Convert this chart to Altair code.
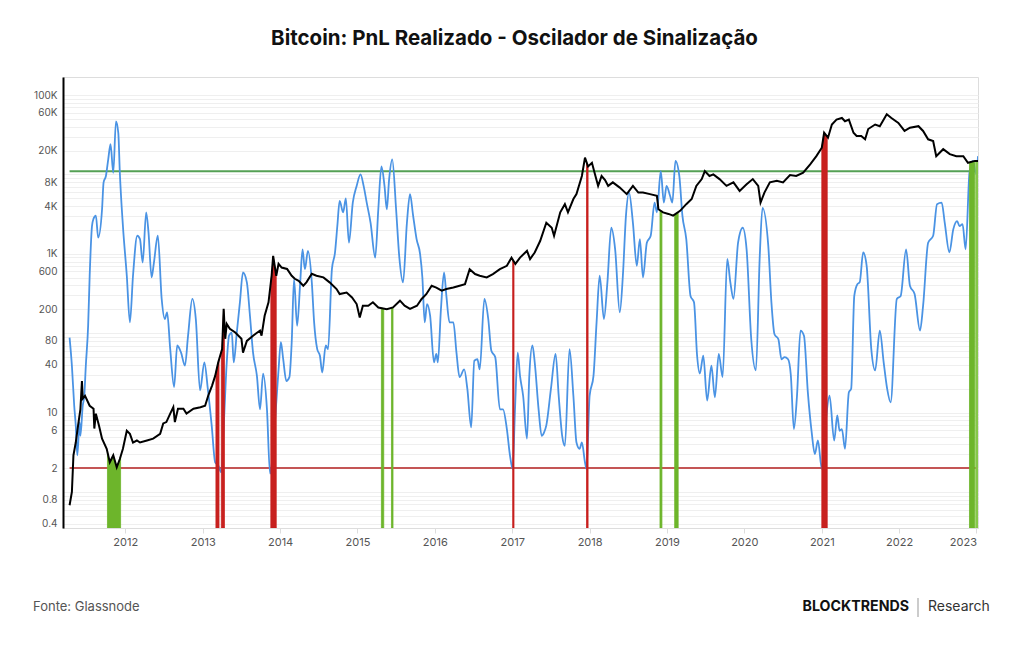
import json
import altair as alt
import numpy as np
import pandas as pd

# ---------------- data ----------------
# Bitcoin price (USD), decimal year
price_years = [
    2011.28, 2011.31, 2011.33, 2011.36, 2011.39, 2011.42, 2011.44, 2011.45, 2011.48, 2011.54,
    2011.59, 2011.60, 2011.62, 2011.66, 2011.70, 2011.76, 2011.80, 2011.845, 2011.89, 2011.93,
    2011.97, 2012.02, 2012.06, 2012.10, 2012.15, 2012.19, 2012.28, 2012.36, 2012.45, 2012.49,
    2012.53, 2012.58, 2012.62, 2012.64, 2012.68, 2012.75, 2012.79, 2012.88, 2012.97, 2013.03,
    2013.07, 2013.12, 2013.16, 2013.20, 2013.25, 2013.27, 2013.29, 2013.31, 2013.35, 2013.42,
    2013.50, 2013.52, 2013.57, 2013.65, 2013.74, 2013.76, 2013.80, 2013.85, 2013.89, 2013.91,
    2013.95, 2013.98, 2014.02, 2014.09, 2014.15, 2014.19, 2014.24, 2014.30, 2014.34, 2014.41,
    2014.47, 2014.56, 2014.64, 2014.73, 2014.77, 2014.86, 2014.93, 2014.99, 2015.03, 2015.07,
    2015.14, 2015.20, 2015.27, 2015.38, 2015.46, 2015.55, 2015.61, 2015.68, 2015.77, 2015.83,
    2015.89, 2015.96, 2016.02, 2016.09, 2016.15, 2016.24, 2016.32, 2016.39, 2016.45, 2016.52,
    2016.58, 2016.67, 2016.75, 2016.84, 2016.93, 2016.99, 2017.04, 2017.10, 2017.19, 2017.23,
    2017.29, 2017.36, 2017.44, 2017.51, 2017.54, 2017.62, 2017.68, 2017.72, 2017.79, 2017.83,
    2017.90, 2017.94, 2017.98, 2018.03, 2018.07, 2018.11, 2018.155, 2018.20, 2018.24, 2018.30,
    2018.39, 2018.48, 2018.56, 2018.63, 2018.69, 2018.78, 2018.87, 2018.89, 2018.95, 2019.02,
    2019.08, 2019.17, 2019.25, 2019.32, 2019.38, 2019.45, 2019.49, 2019.55, 2019.60, 2019.68,
    2019.77, 2019.86, 2019.94, 2020.03, 2020.11, 2020.18, 2020.21, 2020.26, 2020.33, 2020.42,
    2020.50, 2020.59, 2020.67, 2020.76, 2020.85, 2020.93, 2021.00, 2021.03, 2021.08, 2021.13,
    2021.19, 2021.26, 2021.30, 2021.35, 2021.41, 2021.45, 2021.51, 2021.56, 2021.60, 2021.69,
    2021.75, 2021.84, 2021.90, 2021.99, 2022.07, 2022.14, 2022.25, 2022.31, 2022.375, 2022.44,
    2022.48, 2022.57, 2022.655, 2022.74, 2022.83, 2022.89, 2022.98, 2023.02,
]
price_values = [
    0.68, 1.0, 2.9, 4.2, 6.9, 11, 25, 15, 16.3, 12.2,
    11.2, 6.3, 9.7, 6.9, 4.7, 3.5, 2.37, 2.9, 2.05, 2.6,
    3.5, 5.9, 5.4, 4.2, 4.45, 4.2, 4.45, 4.7, 5.4, 7.3,
    7.6, 9.7, 11.7, 7.6, 11.2, 11.2, 9.7, 11.2, 11.7, 12.2,
    16.3, 21.9, 29, 43, 63, 203, 85, 131, 114, 102,
    85, 57, 80, 93, 108, 93, 166, 245, 529, 944,
    529, 748, 672, 645, 529, 485, 457, 396, 437, 560,
    529, 505, 437, 360, 311, 325, 282, 233, 158, 222,
    222, 245, 211, 200, 211, 257, 222, 203, 222, 270,
    310, 396, 376, 343, 360, 376, 396, 415, 640, 556,
    529, 505, 556, 640, 707, 895, 746, 895, 1090, 860,
    1040, 1450, 2460, 2130, 1690, 3330, 4220, 3330, 4900, 5650,
    9560, 16300, 12600, 14000, 10000, 7170, 9560, 8500, 7170, 7940,
    6820, 5650, 7170, 5900, 5900, 5650, 5380, 3640, 3330, 3180,
    3030, 3480, 4220, 4900, 7170, 8730, 11000, 9560, 10000, 8730,
    7170, 7940, 6200, 7500, 8730, 7170, 4420, 5900, 7940, 8330,
    7940, 9800, 9560, 10500, 13400, 17000, 21700, 33500, 29000, 42500,
    49000, 51400, 46700, 49000, 33500, 30500, 30500, 27700, 37300, 42500,
    40500, 57300, 51400, 44600, 35300, 38800, 40500, 35300, 27700, 26400,
    17000, 20800, 18000, 17000, 17000, 14000, 14800, 14800,
]

# Realized PnL oscillator, decimal year
osc_years = [
    2011.28, 2011.31, 2011.34, 2011.36, 2011.38, 2011.41, 2011.42, 2011.45, 2011.47, 2011.49,
    2011.52, 2011.54, 2011.57, 2011.59, 2011.62, 2011.65, 2011.70, 2011.72, 2011.75, 2011.78,
    2011.81, 2011.845, 2011.88, 2011.91, 2011.93, 2011.97, 2012.02, 2012.06, 2012.10, 2012.155,
    2012.19, 2012.225, 2012.27, 2012.30, 2012.34, 2012.37, 2012.42, 2012.47, 2012.51, 2012.54,
    2012.58, 2012.63, 2012.67, 2012.72, 2012.77, 2012.81, 2012.865, 2012.91, 2012.965, 2013.02,
    2013.065, 2013.115, 2013.16, 2013.20, 2013.24, 2013.275, 2013.31, 2013.34, 2013.375, 2013.40,
    2013.44, 2013.48, 2013.52, 2013.57, 2013.61, 2013.65, 2013.70, 2013.74, 2013.78, 2013.83,
    2013.87, 2013.93, 2013.98, 2014.01, 2014.04, 2014.08, 2014.12, 2014.15, 2014.18, 2014.22,
    2014.26, 2014.29, 2014.32, 2014.36, 2014.41, 2014.44, 2014.48, 2014.515, 2014.545, 2014.59,
    2014.62, 2014.67, 2014.71, 2014.74, 2014.77, 2014.815, 2014.85, 2014.89, 2014.94, 2014.99,
    2015.04, 2015.08, 2015.12, 2015.17, 2015.23, 2015.27, 2015.31, 2015.35, 2015.38, 2015.41,
    2015.45, 2015.50, 2015.54, 2015.59, 2015.64, 2015.68, 2015.72, 2015.765, 2015.81, 2015.84,
    2015.87, 2015.90, 2015.94, 2015.99, 2016.02, 2016.04, 2016.08, 2016.12, 2016.15, 2016.19,
    2016.24, 2016.28, 2016.32, 2016.38, 2016.42, 2016.47, 2016.51, 2016.55, 2016.58, 2016.64,
    2016.69, 2016.73, 2016.78, 2016.84, 2016.88, 2016.93, 2016.97, 2017.005, 2017.035, 2017.07,
    2017.10, 2017.14, 2017.19, 2017.22, 2017.26, 2017.29, 2017.34, 2017.38, 2017.41, 2017.44,
    2017.50, 2017.56, 2017.60, 2017.645, 2017.68, 2017.74, 2017.79, 2017.83, 2017.87, 2017.90,
    2017.94, 2017.96, 2018.00, 2018.05, 2018.09, 2018.13, 2018.185, 2018.23, 2018.28, 2018.33,
    2018.39, 2018.43, 2018.47, 2018.51, 2018.56, 2018.61, 2018.65, 2018.69, 2018.74, 2018.79,
    2018.84, 2018.87, 2018.92, 2018.96, 2018.995, 2019.04, 2019.07, 2019.11, 2019.16, 2019.20,
    2019.25, 2019.305, 2019.35, 2019.39, 2019.425, 2019.47, 2019.52, 2019.575, 2019.62, 2019.67,
    2019.72, 2019.78, 2019.82, 2019.86, 2019.92, 2019.98, 2020.03, 2020.09, 2020.15, 2020.20,
    2020.235, 2020.31, 2020.35, 2020.39, 2020.44, 2020.48, 2020.52, 2020.565, 2020.60, 2020.64,
    2020.68, 2020.725, 2020.77, 2020.82, 2020.87, 2020.91, 2020.95, 2021.00, 2021.05, 2021.10,
    2021.16, 2021.20, 2021.23, 2021.26, 2021.30, 2021.35, 2021.38, 2021.42, 2021.46, 2021.49,
    2021.535, 2021.58, 2021.64, 2021.69, 2021.75, 2021.80, 2021.845, 2021.89, 2021.97, 2022.02,
    2022.09, 2022.14, 2022.20, 2022.27, 2022.31, 2022.375, 2022.44, 2022.49, 2022.55, 2022.59,
    2022.65, 2022.70, 2022.75, 2022.78, 2022.82, 2022.86, 2022.91, 2022.955, 2022.998, 2023.02,
]
osc_values = [
    88, 39, 12.2, 6.9, 2.9, 7.6, 5.1, 12.2, 16.3, 39,
    124, 529, 2240, 2770, 3030, 1600, 3640, 7940, 9560, 15500,
    24000, 10500, 46700, 33500, 10500, 2240, 529, 137, 529, 1690,
    1530, 776, 3330, 1860, 505, 776, 1690, 270, 151, 183,
    63, 21, 70, 57, 39, 93, 270, 151, 19, 43,
    20, 6.9, 2.37, 2.16, 1.77, 8.3, 43, 93, 102, 43,
    102, 245, 582, 437, 166, 57, 29, 11, 31, 11,
    1.7, 6.9, 35, 77, 47, 25, 28, 77, 479, 124,
    437, 1140, 640, 1090, 437, 137, 63, 52, 32, 70,
    63, 640, 1040, 2240, 4650, 3330, 4990, 1380, 4420, 7170,
    10000, 7170, 4420, 2460, 895, 3640, 12600, 7170, 3640, 8730,
    15500, 3640, 944, 437, 2460, 5650, 3030, 1530, 1000, 500,
    137, 233, 166, 43, 55, 43, 203, 582, 295, 137,
    137, 57, 28, 35, 20, 6.5, 45, 47, 35, 270,
    151, 60, 50, 11, 11, 6.2, 2.9, 1.95, 11, 57,
    29, 16.3, 4.7, 29, 70, 43, 11, 5.1, 5.6, 6.9,
    20, 55, 16.3, 5.1, 3.8, 63, 16.3, 4.2, 3.5, 4.2,
    2.37, 1.95, 16.3, 29, 137, 529, 151, 437, 2130, 1140,
    183, 529, 3030, 5900, 2460, 707, 1530, 505, 1380, 1690,
    4420, 3330, 11000, 4420, 7170, 5380, 4420, 14800, 9560, 3030,
    1530, 295, 245, 52, 31, 52, 14.2, 39, 15.6, 55,
    28, 860, 437, 270, 1380, 2130, 1140, 84, 34, 944,
    3790, 1250, 245, 97, 84, 47, 50, 47, 30, 6.2,
    16.3, 108, 93, 18, 5.6, 3.0, 4.45, 1.95, 7.6, 16.3,
    4.45, 9.2, 5.9, 6.2, 3.5, 18, 20, 295, 415, 437,
    1040, 707, 63, 34, 108, 43, 20, 13.5, 270, 295,
    1140, 396, 311, 108, 222, 1380, 1690, 4220, 4420, 2460,
    1040, 2030, 2580, 2240, 2370, 1140, 10500, 14800, 10000, 17000,
]

# Signal periods (decimal years) and their type
signal_start = [2011.77, 2013.17, 2013.24, 2013.88, 2015.31, 2015.44, 2017.005, 2017.96, 2018.91, 2019.10, 2021.00, 2022.91, 2022.99]
signal_end = [2011.94, 2013.21, 2013.28, 2013.95, 2015.34, 2015.46, 2017.022, 2017.98, 2018.935, 2019.145, 2021.07, 2022.975, 2023.02]
signal_kind = ["buy", "sell", "sell", "sell", "buy", "buy", "sell", "sell", "buy", "buy", "sell", "buy", "buy2"]

# Threshold levels of the oscillator
threshold_values = [11000, 2]
threshold_kind = ["upper", "lower"]

year_ticks = list(range(2012, 2024))
y_label_values = [0.4, 0.8, 2, 6, 10, 40, 80, 200, 600, 1000, 4000, 8000, 20000, 60000, 100000]

# ---------------- styling ----------------
Y_MIN, Y_MAX = 0.352, 168700
X_START, X_END = 2011.195, 2023.02
FONT = "Inter"
BLUE = "#4A93E4"
RED_BAR = "#C8211F"
GREEN_BAR = "#6DB52B"
GREEN_BAR2 = "#86C84A"
GREEN_LINE = "#55A055"
RED_LINE = "#C45555"


def to_date(t):
    y = int(np.floor(t))
    a = pd.Timestamp(year=y, month=1, day=1)
    b = pd.Timestamp(year=y + 1, month=1, day=1)
    return a + (b - a) * (t - y)


def dt(t):
    d = to_date(t)
    return alt.DateTime(year=d.year, month=d.month, date=d.day, hours=d.hour)


price_df = pd.DataFrame({"date": [to_date(t) for t in price_years], "price": price_values})
osc_df = pd.DataFrame({"date": [to_date(t) for t in osc_years], "osc": osc_values})

log_p = np.log10(np.array(price_values, dtype=float))
rows = []
for i, (s, e, k) in enumerate(zip(signal_start, signal_end, signal_kind)):
    for t in np.linspace(s, e, 10):
        rows.append({
            "sid": i,
            "kind": k,
            "date": to_date(float(t)),
            "top": float(10 ** np.interp(t, price_years, log_p)),
            "base": Y_MIN,
        })
sig_df = pd.DataFrame(rows)

thr_df = pd.DataFrame({
    "value": threshold_values,
    "kind": threshold_kind,
    "start": [to_date(price_years[0])] * 2,
    "end": [to_date(X_END)] * 2,
})

grid_vals = sorted({round(m * 10 ** k, 6) for k in range(-1, 5) for m in range(1, 10)} | {100000})
grid_vals = [v for v in grid_vals if Y_MIN <= v <= Y_MAX]

label_expr = (
    f"indexof({json.dumps(y_label_values)}, datum.value) >= 0 ? "
    "(datum.value >= 1000 ? (datum.value / 1000) + 'K' : '' + datum.value) : ''"
)

x_scale = alt.Scale(domain=[dt(X_START), dt(X_END)], nice=False)
y_scale = alt.Scale(type="log", domain=[Y_MIN, Y_MAX], nice=False)

x_axis = alt.Axis(
    values=[alt.DateTime(year=y, month=1, date=1) for y in year_ticks],
    format="%Y", grid=False, title=None,
    domainColor="#dddddd", domainWidth=1,
    tickColor="#dddddd", tickSize=5,
    labelPadding=3, labelFontSize=11, labelColor="#555555", labelFont=FONT,
    labelFlush=5, labelOverlap=False,
)
y_axis = alt.Axis(
    values=grid_vals, labelExpr=label_expr, title=None,
    grid=True, gridColor="#efefef", gridWidth=1,
    domainColor="#000000", domainWidth=2,
    ticks=False, labelPadding=6, labelFontSize=10, labelColor="#555555",
    labelFont=FONT, labelOverlap=False,
)

base_grid = alt.Chart(price_df).mark_line(opacity=0).encode(
    x=alt.X("date:T", scale=x_scale, axis=x_axis),
    y=alt.Y("price:Q", scale=y_scale, axis=y_axis),
)

upper_rule = alt.Chart(thr_df).transform_filter(alt.datum.kind == "upper").mark_rule(
    color=GREEN_LINE, strokeWidth=2
).encode(x="start:T", x2="end:T", y="value:Q")

lower_rule = alt.Chart(thr_df).transform_filter(alt.datum.kind == "lower").mark_rule(
    color=RED_LINE, strokeWidth=2
).encode(x="start:T", x2="end:T", y="value:Q")

osc_line = alt.Chart(osc_df).mark_line(
    color=BLUE, strokeWidth=1.8, interpolate="monotone", clip=True
).encode(x="date:T", y="osc:Q")

signals = alt.Chart(sig_df).mark_area(strokeWidth=0.8, clip=True).encode(
    x="date:T",
    y="top:Q",
    y2="base:Q",
    detail="sid:N",
    color=alt.Color("kind:N", scale=alt.Scale(domain=["buy", "buy2", "sell"], range=[GREEN_BAR, GREEN_BAR2, RED_BAR]), legend=None),
    stroke=alt.Stroke("kind:N", scale=alt.Scale(domain=["buy", "buy2", "sell"], range=[GREEN_BAR, GREEN_BAR2, RED_BAR]), legend=None),
)

price_line = alt.Chart(price_df).mark_line(
    color="#000000", strokeWidth=2, clip=True
).encode(x="date:T", y="price:Q")

source_text = alt.Chart(pd.DataFrame({"t": ["Fonte: Glassnode"]})).mark_text(
    align="left", baseline="middle", font=FONT, fontSize=13, color="#555555"
).encode(text="t:N", x=alt.value(-30), y=alt.value(530))

brand_text = alt.Chart(pd.DataFrame({"t": ["BLOCKTRENDS"]})).mark_text(
    align="right", baseline="middle", font=FONT, fontSize=14.2, fontWeight="bold", color="#111111"
).encode(text="t:N", x=alt.value(846), y=alt.value(530))

sep_rule = alt.Chart(pd.DataFrame({"t": [0]})).mark_rule(color="#999999", strokeWidth=1).encode(
    x=alt.value(855), y=alt.value(521), y2=alt.value(540)
)

research_text = alt.Chart(pd.DataFrame({"t": ["Research"]})).mark_text(
    align="left", baseline="middle", font=FONT, fontSize=14, color="#333333"
).encode(text="t:N", x=alt.value(865), y=alt.value(530))

chart = alt.layer(
    base_grid, upper_rule, lower_rule, osc_line, signals, price_line,
    source_text, brand_text, sep_rule, research_text,
).properties(
    width=915,
    height=451,
    autosize=alt.AutoSizeParams(type="none"),
    padding={"left": 63, "top": 77, "right": 46, "bottom": 117},
    title=alt.Title(
        "Bitcoin: PnL Realizado - Oscilador de Sinalização",
        font=FONT, fontSize=20.5, fontWeight="bold", color="#111111",
        anchor="middle", frame="group", baseline="bottom", offset=8, dx=-6,
    ),
).configure_view(stroke=None).configure(background="white")

chart.save("out.html", embed_options={"renderer": "svg", "actions": False})
